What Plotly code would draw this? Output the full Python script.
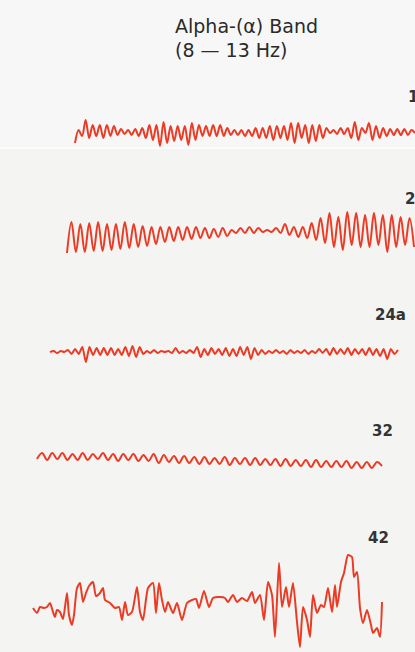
import plotly.graph_objects as go

# ---- EEG alpha-band recordings (amplitude, upward positive, chart units) ----
# Regular traces are sampled at successive peaks/troughs of the waveform.
alpha_1 = [
    -10, 3, -3, 13, -5, 8, -3, 8, -5, 8, -3, 7, -2, 4, -1, 3, -2, 4, -3, 5,
    -5, 8, -7, 8, -13, 11, -10, 7, -8, 7, -7, 7, -12, 10, -7, 8, -3, 7, -3, 8,
    -3, 8, -3, 5, -2, 3, -2,
    3, -3, 3, -3, 5, -5, 5, -5, 7, -7, 7, -5, 7, -7, 10, -10, 10, -5, 8, -10,
    8, -8, 8, -5, 5, 0, 3, -1, 5, -1, 5, -5, 11, -7, 5, 0, 10, -7, 7, -5,
    5, -3, 4, -2, 4, -2, 4, -2, 3, 0,
]
alpha_20 = [
    -21, 10, -20, 8, -20, 9, -19, 10, -19, 8, -18, 8, -17, 10, -16, 8, -15, 6,
    -14, 5, -12, 5, -10, 5, -9, 5, -8, 5, -7, 5, -6, 4, -6, 3, -5, 4, -4, 2,
    -1, 4, -1, 5, -1, 4, 0, 2, 0, 4, -1, 8, -3, 5, -5, 5, -6, 9, -8,
    14, -11, 19, -15, 15, -18, 20, -13, 19, -15, 17, -15, 19, -13, 17, -20,
    17, -15, 15, -13, 14, -15,
]
alpha_24a = [
    0, 1, -1, 1, 0,
    2, -2, 3, -2, 5, -10, 5, -3, 4, -3, 4, -3, 4, -3, 3, -3, 5, -4, 6, -5, 5, -2,
    1, -1, 2, -1, 1, 0, 1, -1,
    4, -1, 1, -1, 2, -1,
    5, -5, 3, -3, 4, -2, 3, -3,
    4, -4, 3, -4, 5, -3, 5, -7, 4, -3,
    2, -2, 1, -1, 2, -1, 1, -2, 2, -1, 1, -1, 2, -2, 1, -1, 3, -1,
    3, -3, 4, -2, 3, -2, 4, -3, 3, -2,
    3, -3, 4, -3, 3, -4, 3, -7, 3, -2, 2,
]
alpha_32 = [
    1, 7, 0, 7, 1, 7, 0, 6, 0, 7, 0, 6, 1, 7, 0, 6, -1, 6, 0, 6, -1, 5, -1, 6,
    -3, 5, -2, 4, -3, 4, -3, 3, -4, 3, -4, 2, -4, 3, -5, 2, -4, 2, -5, 2, -5,
    1, -5, 1, -6, 1, -6, 0, -6, 0, -7, 0, -7, -1, -7, -1, -7, -1, -8, -2, -8,
    -2, -8, -2, -6,
]
# The irregular trace is sampled at uneven times.
t_42 = [
    0, 4, 7, 11, 14, 17, 20, 22, 24, 27, 30, 34, 36, 39, 41, 44, 47, 50, 53, 56,
    60, 63, 67, 70, 72, 77, 82, 86, 89, 92, 95, 99, 104, 107, 110, 115, 120, 123,
    126, 129, 132, 135, 140, 144, 149, 154, 159, 163, 166, 171, 176, 180, 187,
    192, 195, 200, 204, 209, 214, 219, 222, 227, 231, 235, 239, 242, 246, 249,
    253, 256, 260, 264, 267, 270, 274, 277, 280, 284, 288, 291, 295, 299, 302,
    304, 308, 311, 315, 319, 321, 324, 327, 330, 334, 338, 340, 344, 347, 349,
]
alpha_42 = [
    -3, -8, -2, -3, -2, 2, -7, -12, -5, -7, -14, 12, -10, -20, -10, 17, 22, 3,
    12, 19, 23, 9, 12, 17, 5, 2, -3, -2, -15, 3, -10, -7, 18, -7, -15, 17, 22,
    -8, 22, 5, -7, 3, -8, 2, -15, 2, 5, 6, -3, 14, -2, 7, 8, 7, 3, 10, 3, 7, 4,
    13, 2, 10, -15, 23, 10, -32, 42, -2, 18, -2, 22, -17, -42, -2, -15, -32, 10,
    -8, 0, -2, 17, -7, 20, -2, 23, 32, 50, 48, 28, 33, -3, -18, -5, -20, -28,
    -23, -32, 3,
]

labels = ["1", "20", "24a", "32", "42"]
title_lines = ["Alpha-(α) Band", "(8 — 13 Hz)"]

W, H = 415, 652
RED = "#ec3b25"
INK = "#2a2a2a"

# where each channel sits on the sheet: onset, end, baseline, smoothing
channels = [
    dict(values=alpha_1, start=75, end=415, base=133, smooth=0.9),
    dict(values=alpha_20, start=67, end=414, base=232, smooth=1.0),
    dict(values=alpha_24a, start=50, end=398, base=352, smooth=0.6),
    dict(values=alpha_32, start=37, end=382, base=460, smooth=1.0),
]

fig = go.Figure()

for ch in channels:
    vals = ch["values"]
    step = (ch["end"] - ch["start"]) / (len(vals) - 1)
    xs = [ch["start"] + i * step for i in range(len(vals))]
    ys = [ch["base"] - v for v in vals]
    fig.add_trace(go.Scatter(
        x=xs, y=ys, mode="lines",
        line=dict(color=RED, width=2, shape="spline", smoothing=ch["smooth"]),
        hoverinfo="skip", showlegend=False,
    ))

onset_42, base_42 = 33, 605
fig.add_trace(go.Scatter(
    x=[onset_42 + t for t in t_42],
    y=[base_42 - v for v in alpha_42],
    mode="lines",
    line=dict(color=RED, width=2, shape="spline", smoothing=0.6),
    hoverinfo="skip", showlegend=False,
))

# channel labels at the right end of each trace
label_pos = [(406, 97), (403, 199), (373, 315), (370, 431), (366, 538)]
annotations = []
for text, (lx, ly) in zip(labels, label_pos):
    annotations.append(dict(
        x=lx, y=ly, xref="x", yref="y", text=text, showarrow=False,
        xanchor="left", yanchor="middle",
        font=dict(family="DejaVu Sans", size=15, color="#333333", weight="bold"),
    ))

# two-line heading
for i, line in enumerate(title_lines):
    annotations.append(dict(
        x=173, y=26 + i * 24, xref="x", yref="y", text=line, showarrow=False,
        xanchor="left", yanchor="middle",
        font=dict(family="DejaVu Sans", size=19, color=INK),
    ))

fig.update_layout(
    width=W, height=H,
    margin=dict(l=0, r=0, t=0, b=0),
    paper_bgcolor="#f4f4f3",
    plot_bgcolor="#f4f4f3",
    xaxis=dict(range=[0, W], visible=False, fixedrange=True),
    yaxis=dict(range=[H, 0], visible=False, fixedrange=True),
    annotations=annotations,
    shapes=[
        dict(type="rect", xref="x", yref="y", x0=0, x1=W, y0=0, y1=148,
             fillcolor="#f7f7f7", line=dict(width=0), layer="below"),
        dict(type="line", xref="x", yref="y", x0=0, x1=W, y0=148, y1=148,
             line=dict(color="#ffffff", width=1.5), layer="below"),
    ],
)

fig.write_html("out.html", config=dict(displayModeBar=False))
